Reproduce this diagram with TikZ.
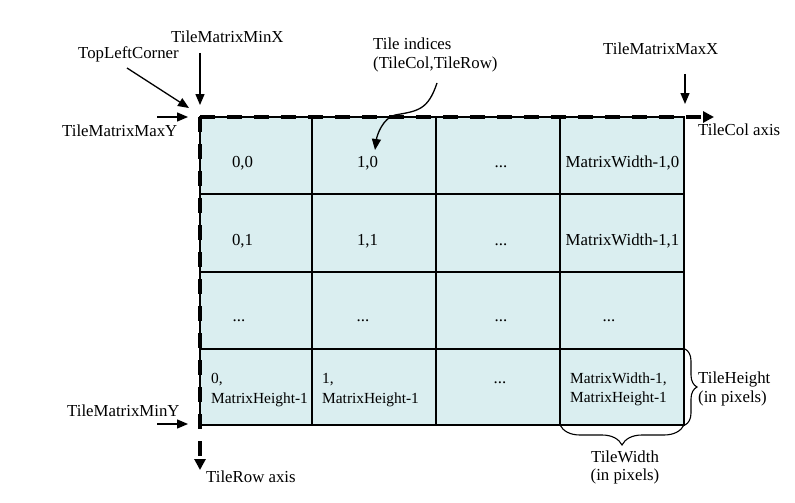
\documentclass[tikz,border=0pt]{standalone}
\usepackage{fontspec}
\setmainfont{Liberation Serif}
\usetikzlibrary{arrows.meta,decorations.pathreplacing}
\definecolor{tilefill}{RGB}{218,238,240}
\begin{document}
\begin{tikzpicture}[x=1pt,y=-1pt,
  lbl/.style={inner sep=0pt,font=\fontsize{16.8}{19}\selectfont},
  small/.style={inner sep=0pt,font=\fontsize{15.4}{18}\selectfont},
  thinarrow/.style={line width=1.3pt,-{Triangle[length=11pt,width=9pt]}},
  axisline/.style={line width=3.5pt,dash pattern=on 15pt off 12pt,-{Triangle[length=11pt,width=11pt]}},
  gridline/.style={line width=1.2pt},
  bracepath/.style={decorate,decoration={brace,amplitude=#1},line width=1.1pt}]
\useasboundingbox (0,0) rectangle (795,503);
% tile matrix
\fill[tilefill] (200,117) rectangle (684,425);
\draw[gridline] (200,117) rectangle (684,425);
\foreach \x in {312,436,560} \draw[gridline] (\x,117) -- (\x,425);
\foreach \y in {194,272,349} \draw[gridline] (200,\y) -- (684,\y);
% axes
\coordinate (origin) at (200,117);
\coordinate (colend) at (714,117);
\coordinate (rowend) at (200,470);
\draw[axisline] (origin) -- (colend);
\draw[axisline] (origin) -- (rowend);
% cell texts
\node[lbl,anchor=base] (c00) at (242.5,167) {0,0};
\node[lbl,anchor=base] (c10) at (367.5,167) {1,0};
\node[lbl,anchor=base] (c20) at (501,167) {...};
\node[lbl,anchor=base] (c30) at (622.5,167) {MatrixWidth-1,0};
\node[lbl,anchor=base] (c01) at (242.5,245) {0,1};
\node[lbl,anchor=base] (c11) at (367.5,245) {1,1};
\node[lbl,anchor=base] (c21) at (501,245) {...};
\node[lbl,anchor=base] (c31) at (622.5,245) {MatrixWidth-1,1};
\node[lbl,anchor=base] (c02) at (239,321) {...};
\node[lbl,anchor=base] (c12) at (363,321) {...};
\node[lbl,anchor=base] (c22) at (501,321) {...};
\node[lbl,anchor=base] (c32) at (609,321) {...};
\node[small,anchor=base west] (c03a) at (211,383) {0,};
\node[small,anchor=base west] (c03b) at (211,403) {MatrixHeight-1};
\node[small,anchor=base west] (c13a) at (322,383) {1,};
\node[small,anchor=base west] (c13b) at (322,403) {MatrixHeight-1};
\node[lbl,anchor=base] (c23) at (500,383) {...};
\node[small,anchor=base west] (c33a) at (570,383) {MatrixWidth-1,};
\node[small,anchor=base west] (c33b) at (570,402) {MatrixHeight-1};
% labels
\node[lbl,anchor=base west] (minx) at (171,43) {TileMatrixMinX};
\node[lbl,anchor=base west] (tlc) at (78,59) {TopLeftCorner};
\node[lbl,anchor=base west] (maxy) at (62,136) {TileMatrixMaxY};
\node[lbl,anchor=base west] (maxx) at (603,55) {TileMatrixMaxX};
\node[lbl,anchor=base west] (miny) at (67,416) {TileMatrixMinY};
\node[lbl,anchor=base west] (ti1) at (373,49) {Tile indices};
\node[lbl,anchor=base west] (ti2) at (373,68) {(TileCol,TileRow)};
\node[lbl,anchor=base west] (colax) at (698,135) {TileCol axis};
\node[lbl,anchor=base west] (rowax) at (206,482) {TileRow axis};
\node[lbl,anchor=base west] (th1) at (698,383) {TileHeight};
\node[lbl,anchor=base west] (th2) at (698,402) {(in pixels)};
\node[lbl,anchor=base] (tw1) at (625,462) {TileWidth};
\node[lbl,anchor=base] (tw2) at (625,480) {(in pixels)};
% pointer arrows
\coordinate (minxa) at (200,53);  \coordinate (minxb) at (200,105);
\coordinate (tlca) at (127,68);   \coordinate (tlcb) at (189,108);
\coordinate (maxya) at (157,117); \coordinate (maxyb) at (188,117);
\coordinate (minya) at (157,424); \coordinate (minyb) at (188,424);
\coordinate (maxxa) at (685,74);  \coordinate (maxxb) at (685,104);
\coordinate (tia) at (437,83);    \coordinate (tib) at (375,150);
\draw[thinarrow] (minxa) -- (minxb);
\draw[thinarrow] (tlca) -- (tlcb);
\draw[thinarrow] (maxya) -- (maxyb);
\draw[thinarrow] (minya) -- (minyb);
\draw[thinarrow] (maxxa) -- (maxxb);
\draw[thinarrow] (tia) .. controls (428,110) and (418,111) .. (395,115) .. controls (383,118) and (377,135) .. (tib);
% braces
\coordinate (bra) at (685,349); \coordinate (brb) at (685,425);
\coordinate (bba) at (684,425); \coordinate (bbb) at (560,425);
\draw[bracepath=12pt] (bra) -- (brb);
\draw[bracepath=20pt] (bba) -- (bbb);
\end{tikzpicture}
\end{document}
